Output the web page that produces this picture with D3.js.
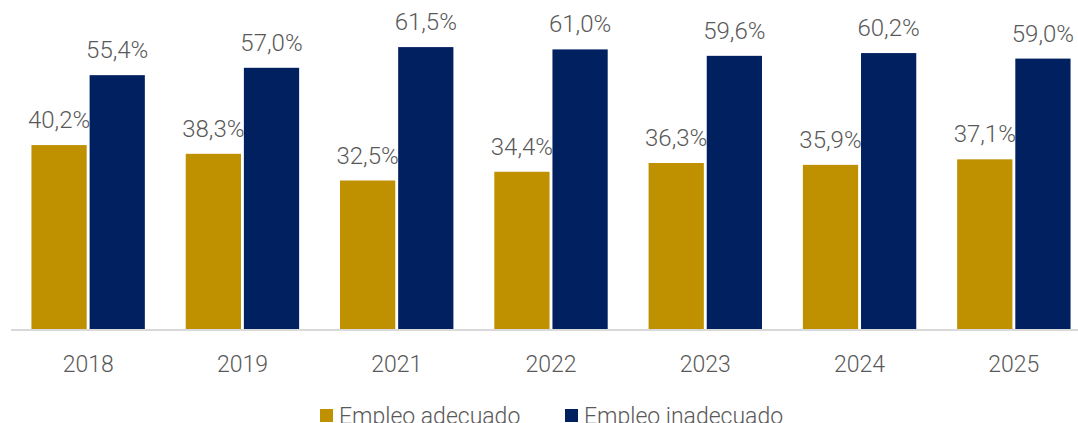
<!DOCTYPE html>
<html>
<head>
<meta charset="utf-8">
<script src="https://cdn.jsdelivr.net/npm/d3@7"></script>
<style>
  html, body { margin: 0; padding: 0; background: #fff; overflow: hidden; }
  svg { display: block; }
  text { font-family: Roboto, "Noto Sans", sans-serif; font-weight: 300; fill: #595959; }
</style>
</head>
<body>
<svg id="chart" width="1078" height="423"></svg>
<script>
// Years shown on the category axis
const years = ["2018", "2019", "2021", "2022", "2023", "2024", "2025"];
// Share of employment (%) by type
const adecuado = [40.2, 38.3, 32.5, 34.4, 36.3, 35.9, 37.1];
const inadecuado = [55.4, 57.0, 61.5, 61.0, 59.6, 60.2, 59.0];
const seriesNames = ["Empleo adecuado", "Empleo inadecuado"];
const seriesColors = ["#BF9000", "#002060"];

const svg = d3.select("#chart");
const baseY = 330;

const x = d3.scaleBand().domain(years).range([11, 1091]).paddingInner(0.265).paddingOuter(0.1325);
const x1 = d3.scaleBand().domain([0, 1]).range([0, x.bandwidth()]).paddingInner(0.05);
const y = d3.scaleLinear().domain([0, 70]).range([baseY, 8]);

const fmt = v => d3.format(".1f")(v).replace(".", ",") + "%";

const series = [adecuado, inadecuado];
series.forEach((vals, s) => {
  const g = svg.append("g");
  g.selectAll("rect").data(vals).join("rect")
    .attr("x", (d, i) => x(years[i]) + x1(s))
    .attr("y", d => y(d))
    .attr("width", x1.bandwidth())
    .attr("height", d => baseY - y(d))
    .attr("fill", seriesColors[s]);
  g.selectAll("text").data(vals).join("text")
    .attr("x", (d, i) => x(years[i]) + x1(s) + x1.bandwidth() / 2)
    .attr("y", d => y(d) - 17)
    .attr("text-anchor", "middle")
    .attr("font-size", 24)
    .text(fmt);
});

// Category axis
const axis = svg.append("g").attr("transform", `translate(0,${baseY})`)
  .call(d3.axisBottom(x).tickSize(0).tickPadding(0));
axis.select(".domain").attr("stroke", "#d9d9d9").attr("stroke-width", 2)
  .attr("d", `M11,0H1091`);
axis.selectAll(".tick text")
  .attr("y", 42)
  .attr("dy", null)
  .attr("font-size", 23)
  .attr("font-family", "Roboto, 'Noto Sans', sans-serif")
  .attr("font-weight", 300)
  .attr("fill", "#595959");

// Legend
const legendX = [320, 565];
const legend = svg.append("g");
seriesNames.forEach((name, s) => {
  legend.append("rect")
    .attr("x", legendX[s]).attr("y", 409)
    .attr("width", 13).attr("height", 13)
    .attr("fill", seriesColors[s]);
  legend.append("text")
    .attr("x", legendX[s] + 19).attr("y", 424)
    .attr("font-size", 23)
    .text(name);
});
</script>
</body>
</html>
